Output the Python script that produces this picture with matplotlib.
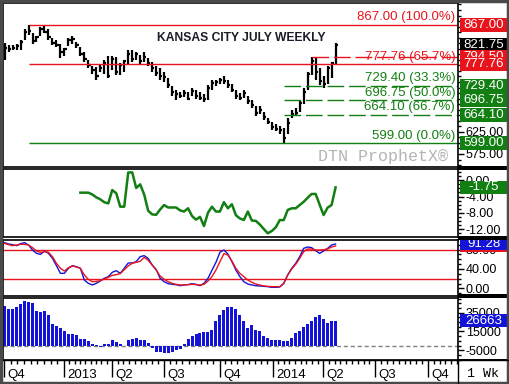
import matplotlib
matplotlib.use("Agg")
import matplotlib.pyplot as plt
import numpy as np
from matplotlib.patches import Rectangle
from matplotlib.ticker import FixedLocator, MultipleLocator, FuncFormatter, NullFormatter
from matplotlib.lines import Line2D

plt.rcParams['font.family'] = ['Liberation Sans', 'DejaVu Sans']
plt.rcParams['axes.unicode_minus'] = False
plt.rcParams['lines.scale_dashes'] = False

# weekly price bars (KC July wheat), week 0 .. 83
high = [826, 822, 822, 824, 833, 856, 867, 849, 842, 862, 865, 856, 837, 833, 824, 815,
        837, 842, 828, 817, 806, 788, 774, 772, 778, 788, 797, 797, 794, 781, 788, 810,
        810, 806, 799, 806, 792, 783, 774, 769, 760, 747, 729, 719, 715, 719, 715, 724,
        719, 715, 710, 731, 742, 742, 747, 751, 742, 733, 719, 713, 719, 706, 697, 683,
        683, 669, 656, 647, 642, 638, 633, 656, 674, 679, 697, 724, 760, 794, 794, 769,
        751, 774, 783, 826]
low = [787, 806, 810, 810, 810, 833, 844, 824, 828, 842, 847, 833, 822, 817, 792, 797,
       819, 824, 815, 797, 783, 769, 756, 742, 760, 756, 747, 765, 754, 754, 760, 778,
       783, 788, 778, 783, 774, 760, 751, 742, 738, 724, 706, 697, 701, 704, 697, 706,
       699, 697, 692, 697, 719, 729, 733, 733, 724, 715, 699, 697, 701, 688, 679, 660,
       665, 651, 642, 629, 626, 620, 599, 620, 656, 660, 669, 688, 719, 754, 742, 731,
       724, 733, 747, 776]
close = [815, 812, 815, 818, 828, 850, 852, 830, 838, 858, 850, 838, 826, 822, 805, 812,
         832, 835, 820, 800, 790, 775, 765, 750, 770, 780, 752, 790, 760, 775, 785, 800,
         790, 800, 785, 795, 780, 768, 758, 752, 748, 730, 715, 710, 705, 712, 700, 718,
         705, 702, 698, 725, 735, 738, 742, 740, 730, 720, 705, 702, 712, 695, 685, 668,
         675, 658, 648, 635, 632, 628, 610, 645, 665, 668, 690, 715, 755, 785, 760, 740,
         732, 768, 780, 821.75]

# retracement levels
dashed_red = 794.50
dashed_green = [729.40, 696.75, 664.10]
level_labels = [("867.00 (100.0%)", 867.00, 'r'), ("777.76 (65.7%)", 777.76, 'r'),
                ("729.40 (33.3%)", 729.40, 'g'), ("696.75 (50.0%)", 696.75, 'g'),
                ("664.10 (66.7%)", 664.10, 'g'), ("599.00 (0.0%)", 599.00, 'g')]

# indicator panel 2 (green line), weeks 19..83
ind2 = [-3.05, -3.05, -3.05, -3.5, -4.2, -4.7, -5.4, -5.7, -2.4, -3.2, -6.5, -6.5, 1.9,
        1.96, -1.9, -1.0, -3.5, -7.5, -8.4, -8.5, -7.2, -6.1, -6.7, -6.7, -6.7, -7.4,
        -7.7, -6.9, -8.8, -9.7, -9.0, -11.26, -8.0, -6.5, -7.7, -7.7, -5.4, -6.9, -5.9,
        -8.6, -9.4, -9.78, -7.7, -9.9, -10.0, -10.9, -12.0, -13.06, -12.5, -11.6, -9.8,
        -9.8, -7.3, -6.9, -6.9, -6.1, -5.3, -4.3, -3.37, -3.37, -6.0, -8.55, -6.74, -6.1,
        -1.75]

# stochastics, weeks 0..83
stoch_k = [94.0, 91.3, 89.9, 87.9, 92.0, 94.0, 89.2, 79.0, 72.1, 70.1, 76.9, 72.1, 61.9,
           46.8, 31.1, 31.1, 41.4, 46.8, 44.8, 41.4, 17.4, 10.6, 7.2, 10.6, 15.4, 20.9,
           24.3, 33.2, 36.6, 31.1, 41.4, 52.3, 52.3, 55.0, 65.3, 67.4, 61.9, 48.2, 39.3,
           20.9, 14.0, 9.9, 8.5, 7.9, 5.8, 7.2, 7.9, 9.9, 8.5, 5.8, 10.6, 20.9, 37.3,
           53.7, 74.2, 79.0, 70.8, 55.0, 37.9, 24.3, 14.0, 9.2, 7.2, 5.8, 5.1, 4.4, 3.8,
           2.4, 2.4, 3.1, 10.6, 27.7, 41.4, 51.6, 65.3, 82.4, 85.1, 83.8, 77.6, 72.1,
           76.9, 82.4, 89.2, 91.28]
stoch_d = [92.6, 89.9, 87.9, 89.2, 90.6, 90.6, 89.2, 83.8, 76.9, 74.2, 75.6, 74.2, 65.3,
           51.6, 41.4, 35.9, 42.7, 46.2, 44.1, 41.4, 27.7, 18.8, 14.0, 14.7, 16.1, 19.5,
           22.9, 27.0, 28.4, 30.4, 38.6, 46.2, 51.6, 53.7, 55.7, 63.9, 57.8, 48.2, 37.9,
           25.6, 18.8, 14.0, 10.6, 8.5, 7.2, 7.2, 7.9, 8.5, 7.9, 7.2, 8.5, 15.4, 24.3,
           37.9, 55.0, 71.5, 68.7, 56.4, 41.4, 31.1, 24.3, 17.4, 12.6, 9.2, 7.2, 5.1, 4.4,
           3.8, 3.8, 3.8, 9.9, 27.7, 40.0, 49.6, 61.9, 75.6, 81.0, 81.0, 79.0, 79.0, 79.7,
           81.0, 85.1, 87.2]

# open interest style histogram, weeks 0..83
hist = [42700, 39500, 39500, 40900, 44100, 47300, 46600, 45600, 36700, 36000, 37400,
        33100, 23500, 20600, 18900, 16000, 12800, 12800, 10700, 7100, 7100, 4600, 1100,
        300, -1400, 1100, 2100, 5700, 3600, 1100, -500, 5700, 7100, 8200, 6400, 6100,
        2800, -2500, -7100, -7100, -7800, -8500, -7000, -4800, -3600, 1100, 7100, 10000,
        12800, 13500, 14600, 14600, 16400, 26000, 32400, 38400, 40900, 40900, 39500,
        32400, 26000, 18900, 21400, 17100, 15300, 10000, 8200, 6400, 5700, 5700, 4600,
        4600, 8200, 13500, 16000, 19600, 23500, 26000, 30300, 32400, 28500, 24200, 26000,
        26663]

date_ticks = [-0.1, 14.9, 26.9, 39.9, 53.9, 67.2, 79.9, 92.9, 106.2]
date_labels = ['Q4', '2013', 'Q2', 'Q3', 'Q4', '2014', 'Q2', 'Q3', 'Q4']

RED = '#e8141c'
GREEN = '#127f12'
BLUE = '#1414d8'
W, H = 510, 384


def frac(l, t, r, b):
    return [l / W, (H - b) / H, (r - l) / W, (b - t) / H]


fig = plt.figure(figsize=(5.1, 3.84), dpi=100)
fig.patch.set_facecolor('white')

weeks = np.arange(len(close))
XL = (-0.4, 113.7)

panels = [(3, 167, (545.6, 915.8)), (169, 237, (-13.97, 2.78)),
          (240, 296, (-15.4, 99.5)), (298, 360, (-15500, 50780))]
axes, raxes = [], []
for top, bot, yl in panels:
    ax = fig.add_axes(frac(3, top, 458, bot))
    ax.set_xlim(*XL)
    ax.set_ylim(*yl)
    ax.yaxis.tick_right()
    ax.tick_params(axis='y', which='major', length=4, width=1, labelsize=9, pad=1.5)
    ax.tick_params(axis='y', which='minor', length=2.5, width=1)
    ax.tick_params(axis='x', which='both', bottom=False, labelbottom=False)
    for s in ax.spines.values():
        s.set_linewidth(1.2)
    axes.append(ax)
    ar = fig.add_axes(frac(458, top, 508, bot))
    ar.set_xlim(0, 1)
    ar.set_ylim(*yl)
    ar.set_axis_off()
    ar.patch.set_visible(False)
    raxes.append(ar)

ax1, ax2, ax3, ax4 = axes
zcount = [10]


def box(ar, val, text, fc, hpx=13, tc='white'):
    # stacked value tag in the right column; later tags sit on top
    lo, hi = ar.get_ylim()
    ppx = ar.get_position().height * H
    h = hpx * (hi - lo) / ppx
    z = zcount[0]
    zcount[0] += 2
    ar.add_patch(Rectangle((0.04, val - h / 2), 0.96, h, fc=fc, ec='none',
                           clip_on=False, zorder=z))
    ar.text(0.52, val, text, color=tc, ha='center', va='center', fontsize=9.5,
            clip_on=False, zorder=z + 1)


# ---- price panel
ax1.vlines(weeks, low, high, color='black', lw=1.6)
ax1.hlines(close, weeks, weeks + 0.55, color='black', lw=1.6)
ax1.hlines([867.00, 777.76], 6, XL[1], color=RED, lw=1)
ax1.hlines(599.00, 6, XL[1], color=GREEN, lw=1)
ax1.add_line(Line2D([77, XL[1]], [dashed_red] * 2, color=RED, lw=1, dashes=(12, 3.5)))
for lv in dashed_green:
    ax1.add_line(Line2D([70, XL[1]], [lv] * 2, color=GREEN, lw=1, dashes=(12, 3.5)))
for txt, lv, c in level_labels:
    ax1.annotate(txt, xy=(1, lv), xycoords=('axes fraction', 'data'), xytext=(-2, 1),
                 textcoords='offset points', ha='right', va='bottom', fontsize=9.5,
                 color=RED if c == 'r' else GREEN)
ax1.text(0.523, 0.787, 'KANSAS CITY JULY WEEKLY', transform=ax1.transAxes,
         ha='center', va='center', fontsize=8.7, fontweight='bold', color='#1c1c28')
ax1.text(0.835, 0.064, 'DTN ProphetX\u00ae', transform=ax1.transAxes, ha='center',
         va='center', fontsize=12, color='#b4b4b4', family=['Liberation Mono'])
ax1.yaxis.set_major_locator(FixedLocator([575, 625, 675, 725, 775, 825, 875]))
ax1.yaxis.set_major_formatter(FuncFormatter(lambda v, p: '%.2f' % v if v in (575, 625) else ''))
ax1.yaxis.set_minor_locator(MultipleLocator(12.5))
ar1 = raxes[0]
box(ar1, 867.00, '867.00', RED, 14)
box(ar1, 821.75, '821.75', 'black', 14)
box(ar1, 794.50, '794.50', RED, 14)
box(ar1, 777.76, '777.76', RED, 14)
box(ar1, 729.40, '729.40', GREEN, 14)
box(ar1, 696.75, '696.75', GREEN, 14)
box(ar1, 664.10, '664.10', GREEN, 14)
box(ar1, 599.00, '599.00', GREEN, 14)

# ---- panel 2
w2 = np.arange(len(close) - len(ind2), len(close))
ax2.plot(w2, ind2, color=GREEN, lw=1.8)
ax2.yaxis.set_major_locator(FixedLocator([0, -4, -8, -12]))
ax2.yaxis.set_major_formatter(FuncFormatter(lambda v, p: '%.2f' % v))
ax2.yaxis.set_minor_locator(MultipleLocator(1))
box(raxes[1], ind2[-1], '%.2f' % ind2[-1], GREEN, 13)

# ---- panel 3
ax3.axhline(80, color=RED, lw=1)
ax3.axhline(20, color=RED, lw=1)
ax3.plot(weeks, stoch_k, color=BLUE, lw=1)
ax3.plot(weeks, stoch_d, color=RED, lw=1)
ax3.yaxis.set_major_locator(FixedLocator([0, 40, 80]))
ax3.yaxis.set_major_formatter(FuncFormatter(lambda v, p: '%.2f' % v))
ax3.yaxis.set_minor_locator(MultipleLocator(10))
box(raxes[2], stoch_d[-1], '%.2f' % stoch_d[-1], RED, 12)
box(raxes[2], stoch_k[-1], '%.2f' % stoch_k[-1], BLUE, 12)

# ---- panel 4
ax4.axhline(0, color='#808080', lw=1, dashes=(3, 2), zorder=1)
ax4.bar(weeks, hist, width=0.75, color=BLUE, zorder=2)
ax4.yaxis.set_major_locator(FixedLocator([-5000, 15000, 35000]))
ax4.yaxis.set_major_formatter(FuncFormatter(lambda v, p: '%d' % v))
ax4.yaxis.set_minor_locator(MultipleLocator(5000))
box(raxes[3], hist[-1], '%d' % hist[-1], BLUE, 13)

# date axis
ax4.tick_params(axis='x', which='major', bottom=True, length=12.5, width=1,
                direction='out', labelbottom=False)
ax4.tick_params(axis='x', which='minor', bottom=True, length=3, width=1, direction='out')
ax4.xaxis.set_major_locator(FixedLocator(date_ticks))
minor = np.concatenate([np.linspace(a, b, 10)[1:-1] for a, b in
                        zip(date_ticks[:-1], date_ticks[1:])] +
                       [np.arange(date_ticks[-1] + 1.45, XL[1], 1.45)])
ax4.xaxis.set_minor_locator(FixedLocator(minor))
ax4.xaxis.set_minor_formatter(NullFormatter())
for x, lab in zip(date_ticks, date_labels):
    ax4.annotate(lab, xy=(x, 0), xycoords=('data', 'axes fraction'), xytext=(2.5, -10.5),
                 textcoords='offset points', ha='left', va='center', fontsize=9.5)
fig.text(483 / W, 1 - 374 / H, '1 Wk', ha='center', va='center', fontsize=9.5,
         family=['Liberation Mono'])

# frame pieces
for y0, y1 in [(166, 170), (236, 240), (294, 298), (359, 361)]:
    fig.patches.append(Rectangle((458 / W, 1 - y1 / H), 50 / W, (y1 - y0) / H,
                                 transform=fig.transFigure, fc='black', ec='none'))
fig.lines.append(Line2D([458 / W, 458 / W], [0, 1 - 360 / H], transform=fig.transFigure,
                        color='black', lw=1))
fig.lines.append(Line2D([3 / W, 508 / W], [1 - 360 / H] * 2, transform=fig.transFigure,
                        color='black', lw=1))
fig.patches.append(Rectangle((0.002, 0.003), 0.995, 0.994, transform=fig.transFigure,
                             fill=False, ec='#4a4a4a', lw=2.5))

fig.savefig('out.png', dpi=100)
